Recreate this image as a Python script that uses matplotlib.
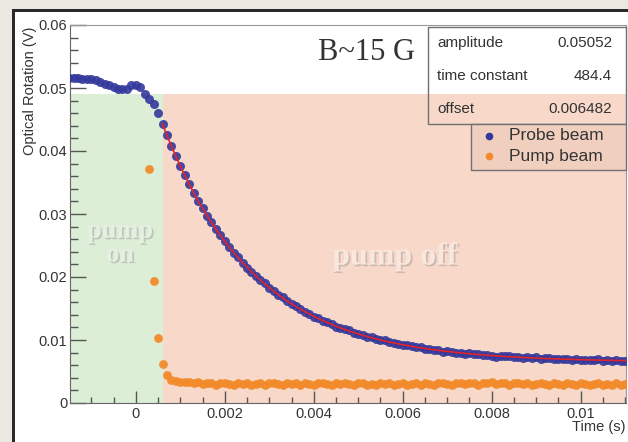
import numpy as np
import matplotlib.pyplot as plt
import matplotlib.patheffects as pe
from matplotlib.patches import Rectangle
from matplotlib.lines import Line2D
from matplotlib.ticker import MultipleLocator, FuncFormatter

# scope trace sampling (s)
dt = 0.0001
probe_t0 = -0.0015
pump_t0 = 0.0003

# probe beam optical rotation (V), one value per sample from probe_t0
probe = [
    0.0516, 0.0516, 0.0516, 0.0515, 0.0515, 0.0514, 0.0512, 0.0510, 0.0507, 0.0505,
    0.0502, 0.0499, 0.0498, 0.0499, 0.0504, 0.0505, 0.0501, 0.0490, 0.0483, 0.0475,
    0.0461,
    0.04426, 0.04247, 0.04077, 0.03915, 0.03761, 0.03614, 0.03473, 0.03340, 0.03212, 0.03091,
    0.02976, 0.02866, 0.02761, 0.02661, 0.02566, 0.02480, 0.02384, 0.02316, 0.02228, 0.02143,
    0.02087, 0.02009, 0.01950, 0.01898, 0.01825, 0.01779, 0.01715, 0.01680, 0.01621, 0.01565,
    0.01537, 0.01500, 0.01445, 0.01412, 0.01366, 0.01347, 0.01304, 0.01288, 0.01248, 0.01214,
    0.01187, 0.01172, 0.01152, 0.01109, 0.01097, 0.01080, 0.01050, 0.01046, 0.01013, 0.01000,
    0.00993, 0.00963, 0.00953, 0.00943, 0.00914, 0.00916, 0.00899, 0.00882, 0.00886, 0.00860,
    0.00860, 0.00840, 0.00846, 0.00817, 0.00818, 0.00815, 0.00798, 0.00800, 0.00778, 0.00792,
    0.00770, 0.00774, 0.00764, 0.00768, 0.00748, 0.00738, 0.00748, 0.00739, 0.00745, 0.00725,
    0.00732, 0.00713, 0.00724, 0.00716, 0.00723, 0.00705, 0.00707, 0.00709, 0.00691, 0.00704,
    0.00697, 0.00704, 0.00687, 0.00695, 0.00678, 0.00686, 0.00689, 0.00678, 0.00691, 0.00674,
    0.00683, 0.00672, 0.00685, 0.00669, 0.00673,
]

# pump beam (V), one value per sample from pump_t0 (earlier samples are off scale)
pump = [
    0.0372, 0.0194, 0.0103, 0.0062, 0.0044, 0.0037, 0.0035, 0.0034, 0.0033, 0.0033,
    0.0032, 0.0033, 0.0030, 0.0032, 0.0031, 0.0029, 0.0031, 0.0032, 0.0030, 0.0029,
    0.0031, 0.0030, 0.0032, 0.0029, 0.0030, 0.0031, 0.0029, 0.0031, 0.0032, 0.0030,
    0.0029, 0.0031, 0.0030, 0.0032, 0.0029, 0.0031, 0.0030, 0.0029, 0.0032, 0.0031,
    0.0030, 0.0029, 0.0031, 0.0030, 0.0032, 0.0030, 0.0029, 0.0031, 0.0031, 0.0029,
    0.0030, 0.0028, 0.0031, 0.0030, 0.0032, 0.0029, 0.0030, 0.0031, 0.0029, 0.0030,
    0.0031, 0.0029, 0.0032, 0.0030, 0.0029, 0.0031, 0.0032, 0.0030, 0.0029, 0.0032,
    0.0031, 0.0030, 0.0032, 0.0031, 0.0029, 0.0032, 0.0031, 0.0033, 0.0030, 0.0031,
    0.0032, 0.0029, 0.0031, 0.0032, 0.0030, 0.0031, 0.0029, 0.0030, 0.0032, 0.0030,
    0.0029, 0.0031, 0.0030, 0.0029, 0.0032, 0.0030, 0.0029, 0.0031, 0.0030, 0.0029,
    0.0030, 0.0032, 0.0029, 0.0030, 0.0028, 0.0031, 0.0029, 0.0030,
]

# fit result from the stats box: amplitude * exp(-rate * t) + offset
fit_names = ['amplitude', 'time constant', 'offset']
fit_labels = ['0.05052', '484.4', '0.006482']
amplitude, rate, offset = 0.05052, 484.4, 0.006482

pump_off_time = 0.0006
region_top = 0.049

t_probe = probe_t0 + dt * np.arange(len(probe))
t_pump = pump_t0 + dt * np.arange(len(pump))

W, H = 628, 442
fig = plt.figure(figsize=(W / 100, H / 100), dpi=100)
plt.rcParams['font.family'] = ['Liberation Sans', 'DejaVu Sans']


def fx(px):
    return px / W


def fy(py):
    return 1 - py / H


# canvas frame
fig.patches.append(Rectangle((0, 0), fx(12), 1, transform=fig.transFigure,
                             color='#ebe8e1', lw=0))
fig.patches.append(Rectangle((0, fy(9)), 1, 1, transform=fig.transFigure,
                             color='#ebe8e1', lw=0))
fig.patches.append(Rectangle((fx(12), 0), fx(3), fy(9), transform=fig.transFigure,
                             color='#2a2a2a', lw=0))
fig.patches.append(Rectangle((fx(12), fy(12)), 1, fy(9) - fy(12), transform=fig.transFigure,
                             color='#2a2a2a', lw=0))

ax = fig.add_axes([fx(70), fy(403), fx(626) - fx(70), fy(25) - fy(403)])
xmin, xmax = -0.00148, 0.01102
ax.set_xlim(xmin, xmax)
ax.set_ylim(0, 0.06)

ax.add_patch(Rectangle((xmin, 0), pump_off_time - xmin, region_top,
                       color='#ddeed7', lw=0, zorder=1))
ax.add_patch(Rectangle((pump_off_time, 0), xmax - pump_off_time, region_top,
                       color='#f7d8c9', lw=0, zorder=1))

shadow = [pe.withSimplePatchShadow(offset=(1.2, -1.2), shadow_rgbFace='#8a8a8a', alpha=0.4)]
fig.text(fx(120), fy(243), 'pump\non', ha='center', va='center', fontsize=19,
         family='Liberation Serif', fontweight='bold', color='#e6f0e2',
         linespacing=1.05, path_effects=shadow)
fig.text(fx(395), fy(257), 'pump off', ha='center', va='center', fontsize=23,
         family='Liberation Serif', fontweight='bold', color='#f9e6dc',
         path_effects=shadow)

probe_color = '#33389c'
pump_color = '#f28a2a'
ax.scatter(t_probe, probe, s=42, color=probe_color, alpha=0.9, lw=0, zorder=3)
ax.scatter(t_pump, pump, s=40, color=pump_color, alpha=0.95, lw=0, zorder=3)

t_fit = np.linspace(pump_off_time, xmax, 300)
ax.plot(t_fit, amplitude * np.exp(-rate * t_fit) + offset, color='#e3242b', lw=1.2, zorder=4)

ax.xaxis.set_major_locator(MultipleLocator(0.002))
ax.xaxis.set_minor_locator(MultipleLocator(0.0005))
ax.yaxis.set_major_locator(MultipleLocator(0.01))
ax.yaxis.set_minor_locator(MultipleLocator(0.002))
fmt = FuncFormatter(lambda v, p: f'{round(v, 6):g}')
ax.xaxis.set_major_formatter(fmt)
ax.yaxis.set_major_formatter(fmt)
ax.tick_params(which='both', direction='in', top=False, right=False,
               color='#555555', width=1.0, labelcolor='#333333', labelsize=10.5)
ax.tick_params(axis='y', which='major', length=11.5, pad=2)
ax.tick_params(axis='y', which='minor', length=5.8)
ax.tick_params(axis='x', which='major', length=8.3, pad=3)
ax.tick_params(axis='x', which='minor', length=4.1)
for side in ['left', 'bottom']:
    ax.spines[side].set_color('#666666')
for side in ['top', 'right']:
    ax.spines[side].set_color('#999999')

fig.text(fx(30), fy(27), 'Optical Rotation (V)', rotation=90, ha='center', va='top',
         fontsize=10.5, color='#333333')
fig.text(fx(626), fy(427), 'Time (s)', ha='right', va='center', fontsize=10.5, color='#333333')

fig.text(fx(318), fy(53), 'B~15 G', ha='left', va='center', fontsize=22,
         family='Liberation Serif', color='#333333')

# stats box
fig.patches.append(Rectangle((fx(428), fy(124)), fx(626) - fx(428), fy(27) - fy(124),
                             transform=fig.transFigure, facecolor='none',
                             edgecolor='#707070', lw=1.0, zorder=5))
for i, (name, val) in enumerate(zip(fit_names, fit_labels)):
    yy = fy(43 + 33 * i)
    fig.text(fx(437), yy, name, ha='left', va='center', fontsize=11, color='#333333')
    fig.text(fx(612), yy, val, ha='right', va='center', fontsize=11, color='#333333')

# legend
fig.patches.append(Rectangle((fx(471), fy(170)), fx(626) - fx(471), fy(124) - fy(170),
                             transform=fig.transFigure, facecolor='#f1cfbf',
                             edgecolor='#707070', lw=1.0, zorder=5))
for i, (name, col) in enumerate([('Probe beam', probe_color), ('Pump beam', pump_color)]):
    yy = fy(136 + 20 * i)
    fig.add_artist(Line2D([fx(489)], [yy], marker='o', ms=4.5, color=col, lw=0,
                          transform=fig.transFigure, zorder=6))
    fig.text(fx(509), yy, name, ha='left', va='center', fontsize=12.5, color='#333333', zorder=6)

fig.savefig('out.png', dpi=100)
